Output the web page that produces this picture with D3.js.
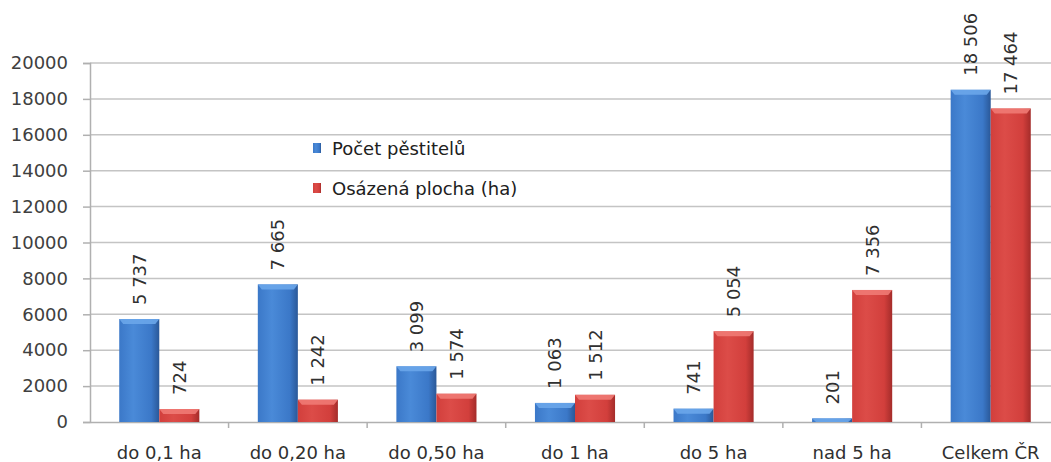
<!DOCTYPE html>
<html>
<head>
<meta charset="utf-8">
<script src="https://cdn.jsdelivr.net/npm/d3@7"></script>
<style>
  html, body { margin: 0; padding: 0; background: #fff; overflow: hidden; }
  svg { display: block; }
  text { font-family: "DejaVu Sans", sans-serif; }
</style>
</head>
<body>
<svg id="chart" width="1051" height="462"></svg>
<script>
// Size classes and series
const categories = ["do 0,1 ha", "do 0,20 ha", "do 0,50 ha", "do 1 ha", "do 5 ha", "nad 5 ha", "Celkem ČR"];
const seriesNames = ["Počet pěstitelů", "Osázená plocha (ha)"];
const growers = [5737, 7665, 3099, 1063, 741, 201, 18506];
const area = [724, 1242, 1574, 1512, 5054, 7356, 17464];
const yTicks = [0, 2000, 4000, 6000, 8000, 10000, 12000, 14000, 16000, 18000, 20000];

const values = [growers, area];
const palette = [
  { dark: "#2a5898", mid: "#3b78c8", light: "#4a8ad8", top: "#6aa6ea" },
  { dark: "#a42c2a", mid: "#d23f3c", light: "#dc4c48", top: "#ef7a74" }
];

const svg = d3.select("#chart");
const margin = { left: 90, right: -9, top: 63 };
const W = 1051;
const plotBottom = 422;
const fontSize = "18px";

const x0 = d3.scaleBand().domain(categories).range([margin.left, W - margin.right]).padding(0);
const x1 = d3.scaleBand().domain(seriesNames).range([0, x0.bandwidth()]).paddingInner(0).paddingOuter(0.73);
const y = d3.scaleLinear().domain([0, 20000]).range([plotBottom, margin.top]);

// gradients
const defs = svg.append("defs");
palette.forEach((c, i) => {
  const g = defs.append("linearGradient").attr("id", "bar" + i)
    .attr("x1", "0%").attr("x2", "100%").attr("y1", "0%").attr("y2", "0%");
  g.append("stop").attr("offset", "0%").attr("stop-color", c.mid);
  g.append("stop").attr("offset", "35%").attr("stop-color", c.light);
  g.append("stop").attr("offset", "80%").attr("stop-color", c.mid);
  g.append("stop").attr("offset", "100%").attr("stop-color", c.dark);
});

// gridlines
svg.append("g")
  .selectAll("line").data(yTicks.filter(t => t > 0)).join("line")
  .attr("x1", margin.left).attr("x2", W)
  .attr("y1", d => y(d)).attr("y2", d => y(d))
  .attr("stroke", "#c4c4c4").attr("stroke-width", 1.5);

// y axis
const yAxis = svg.append("g").attr("transform", `translate(${margin.left},0)`)
  .call(d3.axisLeft(y).tickValues(yTicks).tickSize(7).tickPadding(15).tickFormat(d3.format("d")));
yAxis.select(".domain").attr("stroke", "#b0b0b0").attr("stroke-width", 1.5);
yAxis.selectAll(".tick line").attr("stroke", "#b0b0b0").attr("stroke-width", 1.5);
yAxis.selectAll(".tick text").attr("fill", "#404040").style("font-size", fontSize);

// x axis
const xAxis = svg.append("g").attr("transform", `translate(0,${plotBottom})`)
  .call(d3.axisBottom(x0).tickSize(0).tickPadding(24));
xAxis.select(".domain").attr("stroke", "#b0b0b0").attr("stroke-width", 1.5);
xAxis.selectAll(".tick text").attr("fill", "#303030").style("font-size", fontSize);
// boundary ticks between categories
svg.append("g").selectAll("line")
  .data(categories.slice(1)).join("line")
  .attr("x1", d => x0(d)).attr("x2", d => x0(d))
  .attr("y1", plotBottom).attr("y2", plotBottom + 6)
  .attr("stroke", "#b0b0b0").attr("stroke-width", 1.5);

// bars
const fmt = v => d3.format(",")(v).replace(/,/g, " ");
const groups = svg.append("g").selectAll("g").data(categories).join("g")
  .attr("transform", d => `translate(${x0(d)},0)`);

seriesNames.forEach((s, si) => {
  const c = palette[si];
  const bw = x1.bandwidth();
  const bx = x1(s);
  groups.each(function (cat, ci) {
    const v = values[si][ci];
    const g = d3.select(this);
    const top = y(v);
    const h = plotBottom - top;
    g.append("rect").attr("x", bx).attr("y", top).attr("width", bw).attr("height", h)
      .attr("fill", `url(#bar${si})`);
    // bevelled top edge
    const bev = Math.min(5, h);
    g.append("path")
      .attr("d", `M${bx},${top}L${bx + bw},${top}L${bx + bw - 4},${top + bev}L${bx + 4},${top + bev}Z`)
      .attr("fill", c.top).attr("opacity", 0.9);
    // value label
    g.append("text")
      .attr("transform", `translate(${bx + bw / 2 + 6.5},${top - 14}) rotate(-90)`)
      .attr("text-anchor", "start")
      .attr("fill", "#303030")
      .style("font-size", fontSize)
      .text(fmt(v));
  });
});

// legend
const legend = svg.append("g").attr("transform", "translate(313,155)");
seriesNames.forEach((s, i) => {
  const row = legend.append("g").attr("transform", `translate(0,${i * 40})`);
  row.append("rect").attr("x", 0).attr("y", -12).attr("width", 8).attr("height", 10)
    .attr("fill", `url(#bar${i})`);
  row.append("text").attr("x", 19).attr("y", 0).attr("fill", "#202020")
    .style("font-size", fontSize).text(s);
});
</script>
</body>
</html>
